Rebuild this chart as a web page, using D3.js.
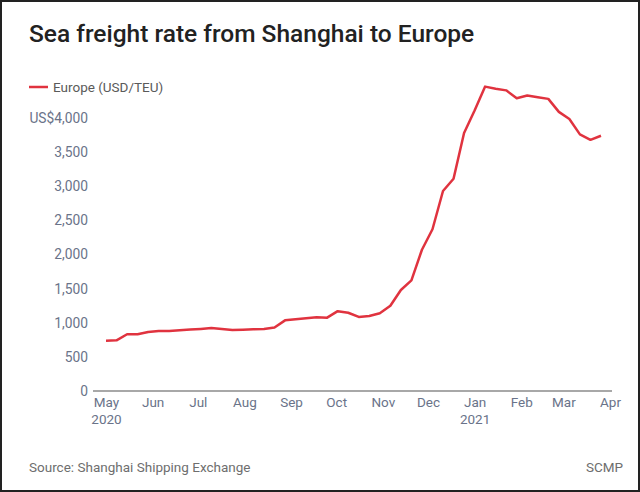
<!DOCTYPE html>
<html>
<head>
<meta charset="utf-8">
<script src="https://cdn.jsdelivr.net/npm/d3@7"></script>
<style>
  body { margin: 0; background: #fff; }
  svg { display: block; font-family: Roboto, "Noto Sans", sans-serif; }
</style>
</head>
<body>
<div id="chart"></div>
<script>
// weekly readings (Fridays), Shanghai -> Europe, USD/TEU
var startDate = '2020-05-01';
var rates = [
  737, 742, 831, 831, 865, 880, 878, 890, 900, 910,
  923, 909, 894, 897, 903, 910, 930, 1035, 1050, 1065,
  1082, 1075, 1170, 1147, 1085, 1100, 1140, 1250, 1480, 1620,
  2070, 2370, 2930, 3110, 3780, 4110, 4460, 4430, 4405, 4290,
  4330, 4305, 4280, 4090, 3985, 3760, 3680, 3740
];
var yTicks = [0, 500, 1000, 1500, 2000, 2500, 3000, 3500, 4000];
var monthTicks = ['2020-05-01', '2020-06-01', '2020-07-01', '2020-08-01', '2020-09-01', '2020-10-01',
  '2020-11-01', '2020-12-01', '2021-01-01', '2021-02-01', '2021-03-01', '2021-04-01'];

var width = 640;
var height = 492;
var labelColor = '#6a7389';

var parse = d3.timeParse('%Y-%m-%d');
var t0 = parse(startDate);
var data = rates.map(function(v, i) {
  return { date: d3.timeDay.offset(t0, i * 7), value: v };
});

var x = d3.scaleTime()
  .domain([parse('2020-05-01'), parse('2021-04-01')])
  .range([106, 610]);

var y = d3.scaleLinear()
  .domain([0, 4000])
  .range([391, 118]);

var svg = d3.select('#chart')
  .append('svg')
  .attr('width', width)
  .attr('height', height);

svg.append('rect')
  .attr('x', 1)
  .attr('y', 1)
  .attr('width', width - 2)
  .attr('height', height - 2)
  .attr('fill', '#fff')
  .attr('stroke', '#222')
  .attr('stroke-width', 2);

svg.append('text')
  .attr('x', 29)
  .attr('y', 42)
  .attr('font-size', 24.5)
  .attr('font-weight', 500)
  .attr('fill', '#222')
  .text('Sea freight rate from Shanghai to Europe');

// legend
svg.append('line')
  .attr('x1', 29)
  .attr('x2', 48)
  .attr('y1', 87)
  .attr('y2', 87)
  .attr('stroke', '#e0333f')
  .attr('stroke-width', 2.5);

svg.append('text')
  .attr('x', 53)
  .attr('y', 92)
  .attr('font-size', 13.5)
  .attr('fill', '#5a5a5a')
  .text('Europe (USD/TEU)');

// y axis labels
var yAxis = d3.axisLeft(y)
  .tickValues(yTicks)
  .tickSize(0)
  .tickPadding(0)
  .tickFormat(function(d) {
    return d === 4000 ? 'US$' + d3.format(',')(d) : d3.format(',')(d);
  });

var gy = svg.append('g')
  .attr('transform', 'translate(88,0)')
  .call(yAxis);
gy.select('.domain').remove();
gy.selectAll('text')
  .attr('font-family', 'Roboto, "Noto Sans", sans-serif')
  .attr('font-size', 13.8)
  .attr('fill', labelColor);

// baseline
svg.append('line')
  .attr('x1', 93)
  .attr('x2', 612)
  .attr('y1', y(0))
  .attr('y2', y(0))
  .attr('stroke', '#a8a8a8')
  .attr('stroke-width', 2);

// x axis labels
var xAxis = d3.axisBottom(x)
  .tickValues(monthTicks.map(parse))
  .tickSize(0)
  .tickPadding(0)
  .tickFormat(d3.timeFormat('%b'));

var gx = svg.append('g')
  .attr('transform', 'translate(0,397)')
  .call(xAxis);
gx.select('.domain').remove();
gx.selectAll('text')
  .attr('font-family', 'Roboto, "Noto Sans", sans-serif')
  .attr('font-size', 13.5)
  .attr('fill', labelColor);

gx.selectAll('.tick')
  .filter(function(d) { return d.getMonth() === 0 || +d === +parse('2020-05-01'); })
  .append('text')
  .attr('y', 17)
  .attr('dy', '0.71em')
  .attr('font-family', 'Roboto, "Noto Sans", sans-serif')
  .attr('font-size', 13.5)
  .attr('fill', labelColor)
  .attr('text-anchor', 'middle')
  .text(function(d) { return d.getFullYear(); });

// line
var line = d3.line()
  .x(function(d) { return x(d.date); })
  .y(function(d) { return y(d.value); });

svg.append('path')
  .datum(data)
  .attr('d', line)
  .attr('fill', 'none')
  .attr('stroke', '#e0333f')
  .attr('stroke-width', 2.5)
  .attr('stroke-linejoin', 'round');

// footer
svg.append('text')
  .attr('x', 29)
  .attr('y', 472)
  .attr('font-size', 13.5)
  .attr('fill', '#6e6e6e')
  .text('Source: Shanghai Shipping Exchange');

svg.append('text')
  .attr('x', 623)
  .attr('y', 472)
  .attr('text-anchor', 'end')
  .attr('font-size', 13.5)
  .attr('fill', '#6e6e6e')
  .text('SCMP');
</script>
</body>
</html>
